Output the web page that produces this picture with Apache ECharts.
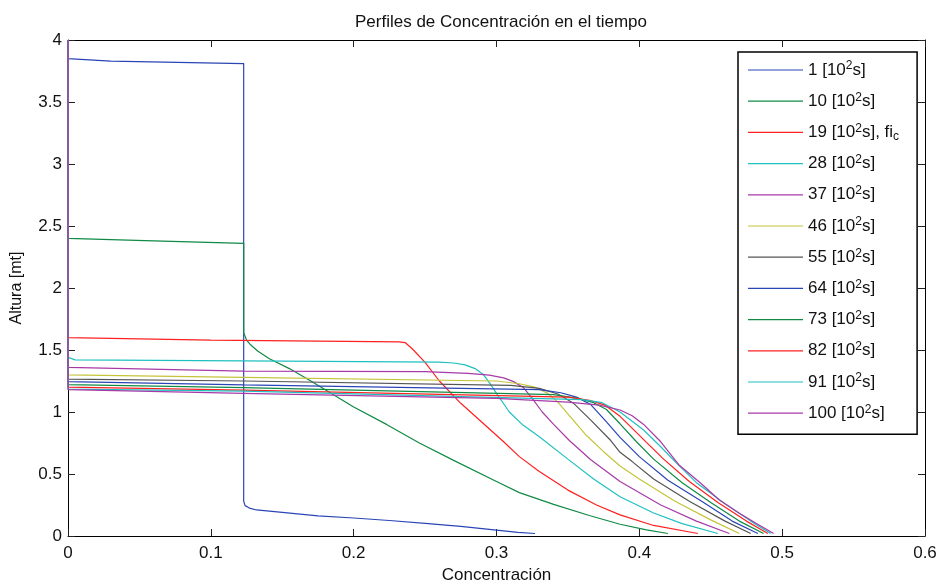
<!DOCTYPE html>
<html>
<head>
<meta charset="utf-8">
<script src="https://cdn.jsdelivr.net/npm/echarts@6/dist/echarts.min.js"></script>
<style>
  html, body { margin: 0; padding: 0; background: #fff; }
  #chart { width: 938px; height: 581px; }
</style>
</head>
<body>
<div id="chart"></div>
<script>
// tiempos de cada perfil (en 10^2 s)
var tiempos = ['1', '10', '19', '28', '37', '46', '55', '64', '73', '82', '91', '100'];
var colores = ['#2a45b5', '#108a45', '#ff2020', '#20c0c0', '#a83aa8', '#c4c43a',
               '#555555', '#2a45b5', '#108a45', '#ff2020', '#20c0c0', '#a83aa8'];

// perfiles [concentracion, altura]
var p1 = [[0,4],[0,3.85],[0.03,3.83],[0.123,3.81],[0.123,0.28],[0.124,0.245],[0.127,0.225],[0.132,0.21],[0.15,0.19],[0.175,0.162],[0.2,0.145],[0.225,0.125],[0.25,0.102],[0.275,0.077],[0.3,0.047],[0.315,0.03],[0.327,0.02]];
var p10 = [[0,4],[0,2.40],[0.06,2.38],[0.123,2.36],[0.123,1.64],[0.125,1.58],[0.128,1.54],[0.133,1.49],[0.141,1.43],[0.155,1.35],[0.17,1.25],[0.185,1.145],[0.2,1.04],[0.223,0.9],[0.246,0.75],[0.27,0.61],[0.3,0.44],[0.316,0.35],[0.34,0.255],[0.365,0.165],[0.3865,0.095],[0.405,0.05],[0.42,0.02]];
var p19 = [[0,4],[0,1.60],[0.1,1.58],[0.232,1.566],[0.236,1.56],[0.241,1.51],[0.25,1.40],[0.26,1.25],[0.275,1.07],[0.29,0.915],[0.305,0.76],[0.316,0.64],[0.33,0.52],[0.35,0.37],[0.37,0.25],[0.3865,0.17],[0.41,0.085],[0.441,0.02]];
var p28 = [[0,4],[0,1.44],[0.005,1.42],[0.15,1.41],[0.26,1.402],[0.27,1.395],[0.278,1.38],[0.285,1.35],[0.291,1.30],[0.296,1.22],[0.30,1.15],[0.309,1.0],[0.318,0.9],[0.33,0.80],[0.35,0.62],[0.368,0.46],[0.3865,0.317],[0.41,0.185],[0.43,0.1],[0.455,0.02]];
var p37 = [[0,4],[0,1.36],[0.123,1.33],[0.25,1.325],[0.28,1.312],[0.295,1.297],[0.305,1.275],[0.312,1.245],[0.319,1.195],[0.325,1.11],[0.332,1.0],[0.34,0.9],[0.351,0.77],[0.366,0.615],[0.3865,0.44],[0.415,0.25],[0.44,0.12],[0.463,0.02]];
var p46 = [[0,4],[0,1.30],[0.123,1.28],[0.3,1.25],[0.316,1.228],[0.327,1.2],[0.336,1.15],[0.343,1.08],[0.351,0.97],[0.363,0.81],[0.375,0.68],[0.3865,0.565],[0.40,0.46],[0.425,0.28],[0.45,0.13],[0.47,0.02]];
var p55 = [[0,4],[0,1.265],[0.123,1.25],[0.31,1.215],[0.33,1.19],[0.343,1.145],[0.354,1.07],[0.366,0.935],[0.38,0.77],[0.3865,0.675],[0.395,0.6],[0.41,0.46],[0.435,0.28],[0.46,0.12],[0.478,0.02]];
var p64 = [[0,4],[0,1.245],[0.123,1.218],[0.33,1.18],[0.345,1.155],[0.356,1.12],[0.366,1.06],[0.377,0.92],[0.3865,0.795],[0.40,0.64],[0.42,0.45],[0.445,0.27],[0.465,0.12],[0.483,0.02]];
var p73 = [[0,4],[0,1.22],[0.123,1.196],[0.34,1.14],[0.357,1.11],[0.368,1.075],[0.377,1.02],[0.3865,0.905],[0.398,0.76],[0.41,0.62],[0.43,0.43],[0.45,0.27],[0.47,0.12],[0.487,0.02]];
var p82 = [[0,4],[0,1.20],[0.123,1.177],[0.35,1.12],[0.365,1.095],[0.376,1.055],[0.3865,0.965],[0.394,0.88],[0.405,0.755],[0.417,0.62],[0.435,0.44],[0.455,0.27],[0.475,0.12],[0.49,0.02]];
var p91 = [[0,4],[0,1.185],[0.123,1.169],[0.36,1.10],[0.374,1.075],[0.3865,1.0],[0.395,0.925],[0.403,0.855],[0.415,0.72],[0.425,0.6],[0.44,0.43],[0.46,0.26],[0.478,0.12],[0.492,0.02]];
var p100 = [[0,4],[0,1.18],[0.123,1.151],[0.3,1.11],[0.35,1.08],[0.372,1.055],[0.3865,1.016],[0.395,0.97],[0.403,0.9],[0.415,0.76],[0.428,0.57],[0.443,0.425],[0.456,0.29],[0.47,0.183],[0.482,0.10],[0.494,0.02]];
var perfiles = [p1, p10, p19, p28, p37, p46, p55, p64, p73, p82, p91, p100];

var fuente = "'Liberation Sans', Arial, sans-serif";

var myChart = echarts.init(document.getElementById('chart'));

var series = [];
for (var i = 0; i < tiempos.length; i++) {
    series.push({
        name: tiempos[i] + ' [10²s]' + (i == 2 ? ', fi_c' : ''),
        type: 'line',
        data: perfiles[i],
        symbol: 'none',
        animation: false,
        lineStyle: { width: 1.2, color: colores[i] },
        itemStyle: { color: colores[i] }
    });
}

function ejeX(pos, labels) {
    return {
        type: 'value', position: pos, min: 0, max: 0.6, interval: 0.1,
        axisLine: { show: true, onZero: false, lineStyle: { color: '#000', width: 1 } },
        axisTick: { show: true, inside: true, length: 7, lineStyle: { color: '#222' } },
        axisLabel: { show: labels, color: '#111', fontSize: 17, fontFamily: fuente, margin: 9 },
        splitLine: { show: false }
    };
}
function ejeY(pos, labels) {
    return {
        type: 'value', position: pos, min: 0, max: 4, interval: 0.5,
        axisLine: { show: true, onZero: false, lineStyle: { color: '#000', width: 1 } },
        axisTick: { show: true, inside: true, length: 7, lineStyle: { color: '#222' } },
        axisLabel: { show: labels, color: '#111', fontSize: 17, fontFamily: fuente, margin: 6 },
        splitLine: { show: false }
    };
}

var xAxes = [ejeX('bottom', true), ejeX('top', false)];
xAxes[0].name = 'Concentración';
xAxes[0].nameLocation = 'middle';
xAxes[0].nameGap = 25;
xAxes[0].nameTextStyle = { color: '#111', fontSize: 17, fontFamily: fuente };
var yAxes = [ejeY('left', true), ejeY('right', false)];
yAxes[0].name = 'Altura [mt]';
yAxes[0].nameLocation = 'middle';
yAxes[0].nameGap = 43;
yAxes[0].nameTextStyle = { color: '#111', fontSize: 16, fontFamily: fuente };

var option = {
    backgroundColor: '#fff',
    animation: false,
    title: {
        text: 'Perfiles de Concentración en el tiempo',
        left: 496, top: 9, textAlign: 'center',
        textStyle: { fontSize: 17, fontWeight: 'normal', color: '#111', fontFamily: fuente }
    },
    grid: { left: 68, right: 13, top: 40, bottom: 45, outerBoundsMode: 'none', containLabel: false },
    xAxis: xAxes,
    yAxis: yAxes,
    legend: {
        orient: 'vertical',
        left: 738, top: 52,
        padding: [8, 18, 11, 10],
        backgroundColor: '#fff',
        borderColor: '#000', borderWidth: 1.5,
        itemWidth: 55, itemHeight: 14, itemGap: 11.2,
        icon: 'path://M0,0 L100,0 L100,2.2 L0,2.2 Z',
        data: series.map(function (s) { return s.name; }),
        formatter: function (name) {
            var t = name.split(' ')[0];
            var s = '{n|' + t + ' [10}{sup|2}{n|s]';
            if (name.indexOf('fi_c') != -1) {
                return s + ', fi}{sub|c}';
            }
            return s + '}';
        },
        textStyle: {
            color: '#111', fontFamily: fuente, fontSize: 17,
            rich: {
                n: { fontSize: 17, fontFamily: fuente, color: '#111', lineHeight: 20 },
                sup: { fontSize: 12, fontFamily: fuente, color: '#111', verticalAlign: 'top', lineHeight: 20, padding: [0, 0, 8, 0] },
                sub: { fontSize: 12, fontFamily: fuente, color: '#111', verticalAlign: 'bottom', lineHeight: 20, padding: [8, 0, 0, 0] }
            }
        }
    },
    series: series
};
myChart.setOption(option);
</script>
</body>
</html>
